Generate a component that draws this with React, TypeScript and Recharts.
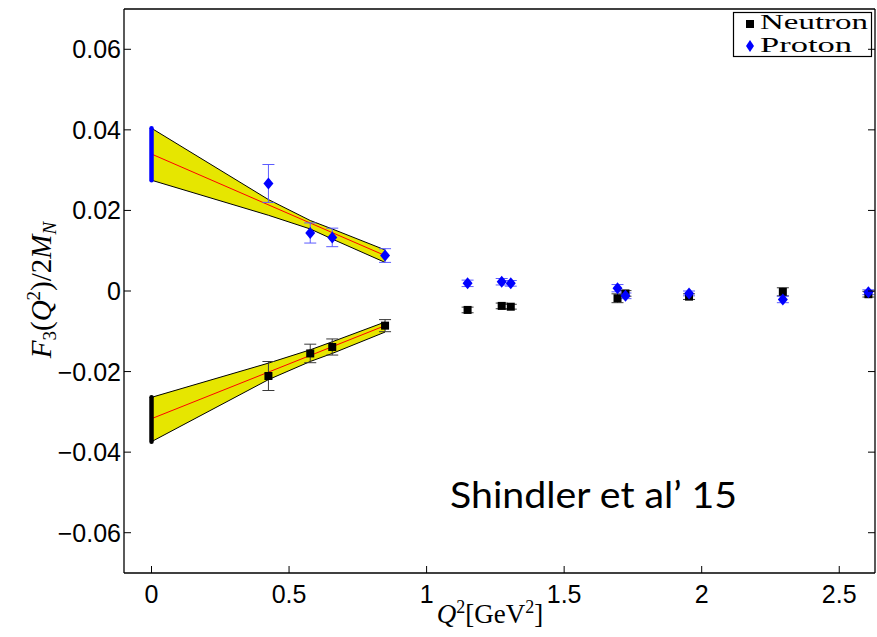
import React from "react";
import {
  Area,
  ComposedChart,
  Customized,
  ErrorBar,
  Line,
  Scatter,
  XAxis,
  YAxis,
} from "recharts";

// axis ticks
const tickQ2 = [0, 0.5, 1, 1.5, 2, 2.5];
const tickF3 = [-0.06, -0.04, -0.02, 0, 0.02, 0.04, 0.06];

// lattice points (same Q^2 for both nucleons)
const latticeQ2 = [0.425, 0.577, 0.657, 0.849, 1.149, 1.273, 1.306, 1.694, 1.723, 1.954, 2.295, 2.606];
const protonF3 = [0.0267, 0.0144, 0.0133, 0.0088, 0.0019, 0.0023, 0.0019, 0.0007, -0.0012, -0.0006, -0.0021, -0.0003];
const protonErr = [0.0047, 0.0025, 0.0023, 0.0017, 0.0008, 0.0008, 0.0007, 0.0009, 0.0007, 0.0006, 0.0008, 0.0006];
const neutronF3 = [-0.0211, -0.0155, -0.0139, -0.0086, -0.0047, -0.0037, -0.0039, -0.0018, -0.0006, -0.0014, -0.0002, -0.0008];
const neutronErr = [0.0036, 0.0023, 0.002, 0.0015, 0.0007, 0.0007, 0.0006, 0.0011, 0.0007, 0.0007, 0.001, 0.0007];

// fit error bands
const bandQ2 = [0, 0.425, 0.577, 0.657, 0.849];
const protonBandHi = [0.0404, 0.0227, 0.0175, 0.0154, 0.0102];
const protonBandLo = [0.0275, 0.0188, 0.0154, 0.0129, 0.0071];
const neutronBandHi = [-0.0264, -0.0179, -0.0146, -0.0126, -0.0077];
const neutronBandLo = [-0.0374, -0.022, -0.0175, -0.0155, -0.0102];

// central fit lines
const fitQ2 = [0, 0.849];
const protonFit = [0.034, 0.0088];
const neutronFit = [-0.0317, -0.0086];

// extrapolated value at Q^2 = 0 (low, high)
const protonAtZero = [0.0275, 0.0404];
const neutronAtZero = [-0.0374, -0.0264];

const protonPoints = latticeQ2.map((q, i) => ({ q, f: protonF3[i], err: protonErr[i] }));
const neutronPoints = latticeQ2.map((q, i) => ({ q, f: neutronF3[i], err: neutronErr[i] }));
const protonBand = bandQ2.map((q, i) => ({ q, band: [protonBandLo[i], protonBandHi[i]] }));
const neutronBand = bandQ2.map((q, i) => ({ q, band: [neutronBandLo[i], neutronBandHi[i]] }));
const protonLine = fitQ2.map((q, i) => ({ q, f: protonFit[i] }));
const neutronLine = fitQ2.map((q, i) => ({ q, f: neutronFit[i] }));
const protonZero = protonAtZero.map((f) => ({ q: 0, f }));
const neutronZero = neutronAtZero.map((f) => ({ q: 0, f }));

const SANS = "'Liberation Sans', Arial, sans-serif";
const SERIF = "'Liberation Serif', 'Times New Roman', serif";
const BAND = "#e6e600";

function fmt(v: number) {
  if (v === 0) return "0";
  return (v < 0 ? "\u2212" : "") + String(Math.abs(v));
}

function BottomTick({ x, y, payload }: any) {
  return (
    <g>
      <line x1={x} y1={y} x2={x} y2={y - 7} stroke="#000" />
      <text x={x} y={y + 30} textAnchor="middle" fontSize={25} fontFamily={SANS} fill="#000">
        {fmt(payload.value)}
      </text>
    </g>
  );
}

function LeftTick({ x, y, payload }: any) {
  return (
    <g>
      <line x1={x} y1={y} x2={x + 7} y2={y} stroke="#000" />
      <text x={x - 3} y={y + 9} textAnchor="end" fontSize={25} fontFamily={SANS} fill="#000">
        {fmt(payload.value)}
      </text>
    </g>
  );
}

function TopTick({ x, y }: any) {
  return <line x1={x} y1={y} x2={x} y2={y + 7} stroke="#000" />;
}

function RightTick({ x, y }: any) {
  return <line x1={x} y1={y} x2={x - 7} y2={y} stroke="#000" />;
}

function Diamond({ cx, cy, fill }: any) {
  return <polygon points={`${cx},${cy - 6} ${cx + 5},${cy} ${cx},${cy + 6} ${cx - 5},${cy}`} fill={fill} />;
}

function Square({ cx, cy, fill }: any) {
  return <rect x={cx - 4} y={cy - 4} width={8} height={8} fill={fill} />;
}

function XTitle() {
  return (
    <text x={490} y={623} textAnchor="middle" fontSize={27} fontFamily={SERIF} fill="#000">
      <tspan fontStyle="italic">Q</tspan>
      <tspan dy={-10} fontSize={18}>2</tspan>
      <tspan dy={10}>[GeV</tspan>
      <tspan dy={-10} fontSize={18}>2</tspan>
      <tspan dy={10}>]</tspan>
    </text>
  );
}

function YTitle() {
  return (
    <text x={51} y={290} transform="rotate(-90, 51, 290)" textAnchor="middle" fontSize={29} fontFamily={SERIF} fill="#000">
      <tspan fontStyle="italic">F</tspan>
      <tspan dy={5} fontSize={19}>3</tspan>
      <tspan dy={-5}>(</tspan>
      <tspan fontStyle="italic">Q</tspan>
      <tspan dy={-11} fontSize={19}>2</tspan>
      <tspan dy={11}>)/2</tspan>
      <tspan fontStyle="italic">M</tspan>
      <tspan dy={5} fontSize={19} fontStyle="italic">N</tspan>
    </text>
  );
}

function Caption() {
  return (
    <text x={450} y={508} fontSize={36} fontFamily="Lato, 'Open Sans', sans-serif" fill="#000" textLength={287} lengthAdjust="spacingAndGlyphs">
      Shindler et al’ 15
    </text>
  );
}

function KeyBox() {
  return (
    <g>
      <rect x={733.5} y={12.5} width={138} height={44} fill="#fff" stroke="#000" strokeWidth={1.2} />
      <rect x={746} y={20} width={8} height={8} fill="#000" />
      <text x={760} y={29} fontSize={20.5} fontFamily={SERIF} fill="#000" textLength={108} lengthAdjust="spacingAndGlyphs">
        Neutron
      </text>
      <polygon points="750,40 754,46 750,52 746,46" fill="#0000ff" />
      <text x={760} y={52} fontSize={20.5} fontFamily={SERIF} fill="#000" textLength={92} lengthAdjust="spacingAndGlyphs">
        Proton
      </text>
    </g>
  );
}

const axisLine = { stroke: "#000", strokeWidth: 1.3 };

export default function App() {
  return (
    <div style={{ position: "absolute", left: 0, top: 0, width: 877, height: 637, background: "#fff" }}>
      <ComposedChart width={877} height={637} margin={{ top: 8, right: 1, bottom: 1, left: 0 }}>
        <XAxis
          dataKey="q"
          type="number"
          domain={[-0.1, 2.63]}
          allowDataOverflow
          ticks={tickQ2}
          interval={0}
          tickSize={0}
          tickMargin={0}
          tickLine={false}
          axisLine={axisLine}
          height={63}
          tick={(p: any) => <BottomTick {...p} />}
          label={<XTitle />}
        />
        <XAxis
          xAxisId="top"
          orientation="top"
          type="number"
          domain={[-0.1, 2.63]}
          allowDataOverflow
          ticks={tickQ2}
          interval={0}
          tickSize={0}
          tickMargin={0}
          tickLine={false}
          axisLine={axisLine}
          height={1}
          tick={(p: any) => <TopTick {...p} />}
        />
        <YAxis
          dataKey="f"
          type="number"
          domain={[-0.07, 0.07]}
          allowDataOverflow
          ticks={tickF3}
          interval={0}
          tickSize={0}
          tickMargin={0}
          tickLine={false}
          axisLine={axisLine}
          width={124}
          tick={(p: any) => <LeftTick {...p} />}
          label={<YTitle />}
        />
        <YAxis
          yAxisId="right"
          orientation="right"
          type="number"
          domain={[-0.07, 0.07]}
          allowDataOverflow
          ticks={tickF3}
          interval={0}
          tickSize={0}
          tickMargin={0}
          tickLine={false}
          axisLine={axisLine}
          width={1}
          tick={(p: any) => <RightTick {...p} />}
        />

        <Area data={protonBand} dataKey="band" type="linear" fill={BAND} fillOpacity={1} stroke="#000" strokeWidth={1} isAnimationActive={false} />
        <Area data={neutronBand} dataKey="band" type="linear" fill={BAND} fillOpacity={1} stroke="#000" strokeWidth={1} isAnimationActive={false} />
        <Line data={protonLine} dataKey="f" type="linear" stroke="#ff0000" strokeWidth={1} dot={false} isAnimationActive={false} />
        <Line data={neutronLine} dataKey="f" type="linear" stroke="#ff0000" strokeWidth={1} dot={false} isAnimationActive={false} />
        <Line data={protonZero} dataKey="f" type="linear" stroke="#0000ff" strokeWidth={4.5} strokeLinecap="round" dot={false} isAnimationActive={false} />
        <Line data={neutronZero} dataKey="f" type="linear" stroke="#000" strokeWidth={4.5} strokeLinecap="round" dot={false} isAnimationActive={false} />

        <Scatter name="Neutron" data={neutronPoints} fill="#000" shape={(p: any) => <Square {...p} />} isAnimationActive={false}>
          <ErrorBar dataKey="err" direction="y" width={6} stroke="#3a3a3a" strokeWidth={1} />
        </Scatter>
        <Scatter name="Proton" data={protonPoints} fill="#0000ff" shape={(p: any) => <Diamond {...p} />} isAnimationActive={false}>
          <ErrorBar dataKey="err" direction="y" width={6} stroke="#5c5cff" strokeWidth={1} />
        </Scatter>

        <Customized component={Caption} />
        <Customized component={KeyBox} />
      </ComposedChart>
    </div>
  );
}
